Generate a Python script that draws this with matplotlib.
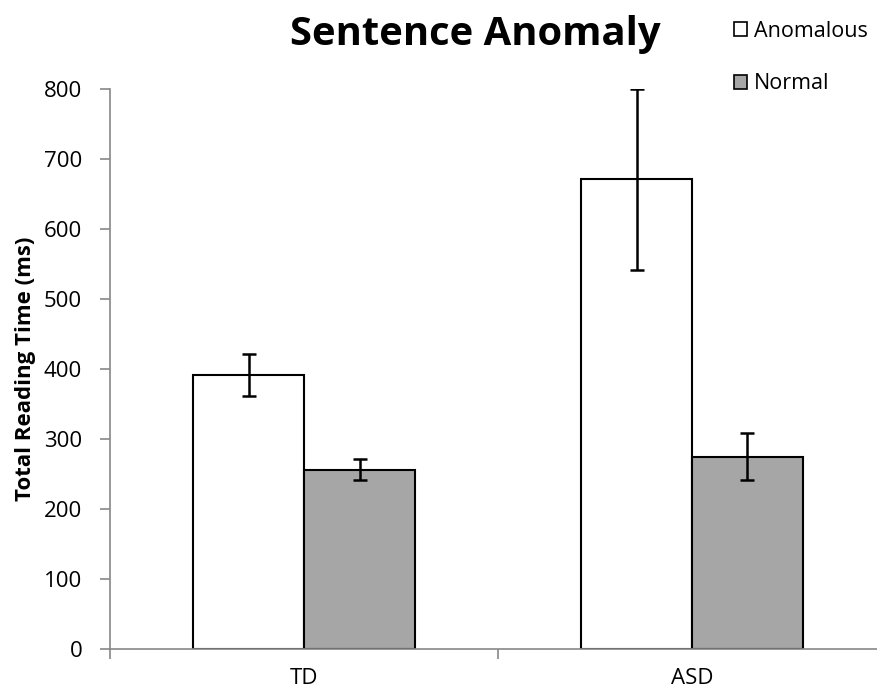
import matplotlib
matplotlib.use("Agg")
import matplotlib.pyplot as plt
from matplotlib.patches import Patch
import numpy as np

categories = ["TD", "ASD"]
series_names = ["Anomalous", "Normal"]
anomalous = [391, 671]
anomalous_err = [30, 129]
normal = [256, 275]
normal_err = [15, 33]
yticks = [0, 100, 200, 300, 400, 500, 600, 700, 800]

plt.rcParams['font.family'] = ['Open Sans', 'DejaVu Sans']

W, H = 878, 694
fig = plt.figure(figsize=(W / 100, H / 100), dpi=100)
left, right, bottom, top = 110, 886, 649, 89
ax = fig.add_axes([left / W, 1 - bottom / H, (right - left) / W, (bottom - top) / H])

x = np.arange(len(categories))
bw = 111 / 388
err_kw = dict(ecolor='black', elinewidth=1.8, capsize=5, capthick=1.8)
ax.bar(x - bw / 2, anomalous, bw, color='white', edgecolor='black', linewidth=1.5,
       yerr=anomalous_err, error_kw=err_kw, label=series_names[0])
ax.bar(x + bw / 2, normal, bw, color='#a6a6a6', edgecolor='black', linewidth=1.5,
       yerr=normal_err, error_kw=err_kw, label=series_names[1])

ax.set_xlim(-0.5, len(categories) - 0.5)
ax.set_ylim(0, 800)
ax.set_yticks(yticks)
ax.set_yticklabels([str(v) for v in yticks], fontsize=16)
ax.set_xticks(x)
ax.set_xticklabels(categories, fontsize=16)
ax.tick_params(axis='x', which='major', length=0, pad=14)
ax.set_xticks(np.arange(-0.5, len(categories), 1.0), minor=True)
ax.tick_params(axis='x', which='minor', length=7, color='#888888', width=1.2)
ax.tick_params(axis='y', length=7, color='#888888', width=1.2, pad=13)

for s in ['top', 'right']:
    ax.spines[s].set_visible(False)
for s in ['left', 'bottom']:
    ax.spines[s].set_color('#888888')
    ax.spines[s].set_linewidth(1.2)

ax.set_ylabel("Total Reading Time (ms)", fontsize=16, fontweight='bold', labelpad=6)

fig.text(475 / W, 1 - 35 / H, "Sentence Anomaly", fontsize=28.8, fontweight='bold',
         ha='center', va='center')

handles = [Patch(facecolor='white', edgecolor='black', linewidth=1.2),
           Patch(facecolor='#a6a6a6', edgecolor='black', linewidth=1.2)]
fig.legend(handles, series_names, loc='upper left', bbox_to_anchor=(734 / W, 1 - 21 / H),
           frameon=False, fontsize=15.5, handlelength=0.62, handleheight=0.62,
           handletextpad=0.32, labelspacing=1.45, borderpad=0, borderaxespad=0)

fig.savefig("out.png", dpi=100)
